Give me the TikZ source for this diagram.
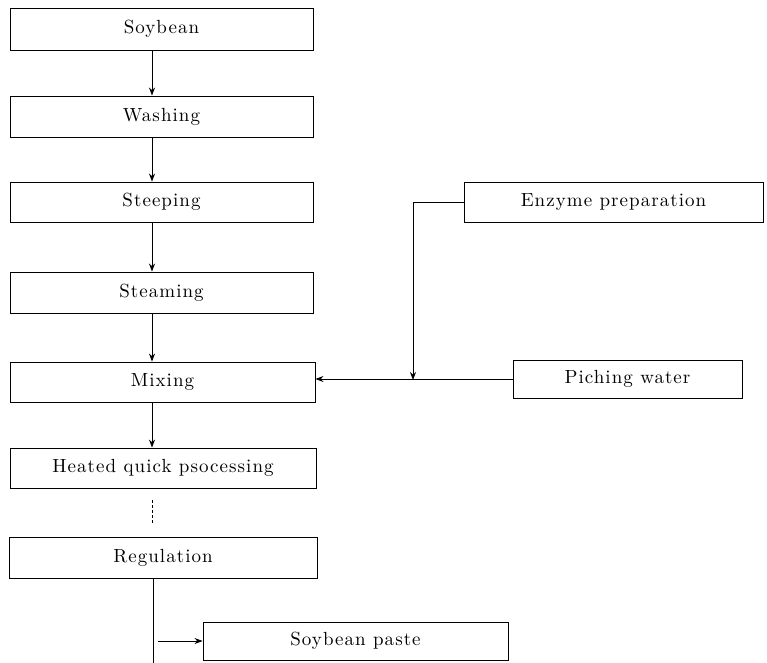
\documentclass[tikz,border=0pt]{standalone}
\usepackage{fontspec}
\setmainfont{lmroman10-regular.otf}[LetterSpace=5.5]
\usetikzlibrary{arrows.meta}
\begin{document}
\begin{tikzpicture}[x=1pt,y=-1pt,
  stepbox/.style={draw, line width=0.9pt, rectangle, inner sep=0pt, font=\fontsize{19}{22}\selectfont},
  arr/.style={line width=0.8pt, -{Stealth[length=8pt,width=6pt]}},
  conn/.style={line width=0.8pt}]
\useasboundingbox (0,0) rectangle (767,662);
\node[stepbox, minimum width=303pt, minimum height=42pt] (soy) at (161.5,29) {Soybean};
\node[stepbox, minimum width=303pt, minimum height=41pt] (wash) at (161.5,116.5) {Washing};
\node[stepbox, minimum width=303pt, minimum height=40pt] (steep) at (161.5,202) {Steeping};
\node[stepbox, minimum width=303pt, minimum height=41pt] (steam) at (161.5,292.5) {Steaming};
\node[stepbox, minimum width=305pt, minimum height=40pt] (mix) at (162.5,382) {Mixing};
\node[stepbox, minimum width=306pt, minimum height=40pt] (heat) at (163,468) {Heated quick psocessing};
\node[stepbox, minimum width=308pt, minimum height=41pt] (reg) at (163,557.5) {Regulation};
\node[stepbox, minimum width=305pt, minimum height=38pt] (paste) at (355.5,641) {Soybean paste};
\node[stepbox, minimum width=299pt, minimum height=40pt] (enz) at (613.5,202) {Enzyme preparation};
\node[stepbox, minimum width=229pt, minimum height=38pt] (water) at (627.5,379) {Piching water};
\coordinate (c) at (152,0);
\coordinate (ej) at (413,0);
\coordinate (rb) at (153,664);
\coordinate (ps) at (158,0);
\draw[arr] (soy.south -| c) -- (wash.north -| c);
\draw[arr] (wash.south -| c) -- (steep.north -| c);
\draw[arr] (steep.south -| c) -- (steam.north -| c);
\draw[arr] (steam.south -| c) -- (mix.north -| c);
\draw[arr] (mix.south -| c) -- (heat.north -| c);
\draw[conn, densely dashed, shorten <=12pt, shorten >=12pt] (heat.south -| c) -- (reg.north -| c);
\draw[arr] (water.west) -- (water.west -| mix.east);
\draw[arr] (enz.west) -- (enz.west -| ej) -- ([yshift=-1pt]water.west -| ej);
\draw[conn] (reg.south -| rb) -- (rb);
\draw[arr] (paste.west -| ps) -- (paste.west);
\end{tikzpicture}
\end{document}
